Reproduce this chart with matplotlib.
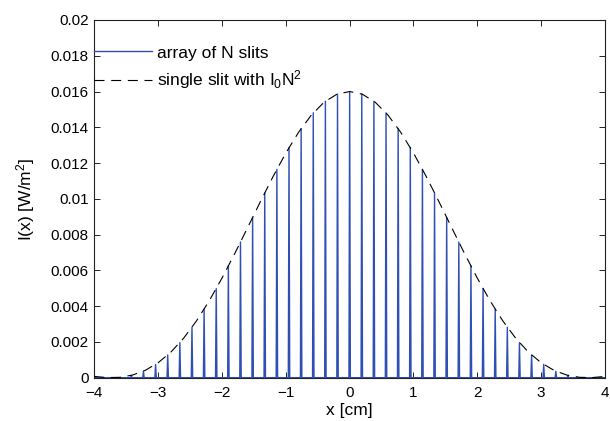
import matplotlib
matplotlib.use("Agg")
import matplotlib.pyplot as plt
import numpy as np

# ---- data ----
peak_pos = [-3.42, -3.23, -3.04, -2.85, -2.66, -2.47, -2.28, -2.09, -1.90, -1.71,
            -1.52, -1.33, -1.14, -0.95, -0.76, -0.57, -0.38, -0.19, 0.00,
            0.19, 0.38, 0.57, 0.76, 0.95, 1.14, 1.33, 1.52, 1.71, 1.90,
            2.09, 2.28, 2.47, 2.66, 2.85, 3.04, 3.23, 3.42]
peak_height = [0.00013, 0.00036, 0.00074, 0.00127, 0.00196, 0.00282, 0.00383, 0.00498,
               0.00625, 0.00759, 0.00896, 0.01033, 0.01165, 0.01287, 0.01393, 0.01481,
               0.01546, 0.01586, 0.01600,
               0.01586, 0.01546, 0.01481, 0.01393, 0.01287, 0.01165, 0.01033, 0.00896,
               0.00759, 0.00625, 0.00498, 0.00383, 0.00282, 0.00196, 0.00127, 0.00074,
               0.00036, 0.00013]

env_x = [-4.0, -3.8, -3.6, -3.4, -3.2, -3.0, -2.8, -2.6, -2.4, -2.2, -2.0,
         -1.8, -1.6, -1.4, -1.2, -1.0, -0.8, -0.6, -0.4, -0.2, 0.0,
         0.2, 0.4, 0.6, 0.8, 1.0, 1.2, 1.4, 1.6, 1.8, 2.0,
         2.2, 2.4, 2.6, 2.8, 3.0, 3.2, 3.4, 3.6, 3.8, 4.0]
env_y = [0.00007, 0.000005, 0.00002, 0.000147, 0.000413, 0.000836, 0.001431, 0.002211,
         0.003170, 0.004296, 0.005566, 0.006940, 0.008379, 0.009831, 0.011245, 0.012560,
         0.013722, 0.014684, 0.015404, 0.015849, 0.016000,
         0.015849, 0.015404, 0.014684, 0.013722, 0.012560, 0.011245, 0.009831, 0.008379,
         0.006940, 0.005566, 0.004296, 0.003170, 0.002211, 0.001431, 0.000836, 0.000413,
         0.000147, 0.00002, 0.000005, 0.00007]

x_ticks = [-4, -3, -2, -1, 0, 1, 2, 3, 4]
y_ticks = [0, 0.002, 0.004, 0.006, 0.008, 0.01, 0.012, 0.014, 0.016, 0.018, 0.02]
y_tick_labels = ["0", "0.002", "0.004", "0.006", "0.008", "0.01", "0.012",
                 "0.014", "0.016", "0.018", "0.02"]

# ---- style ----
plt.rcParams['font.family'] = ['Liberation Sans', 'DejaVu Sans']
plt.rcParams['mathtext.fontset'] = 'custom'
plt.rcParams['mathtext.rm'] = 'Liberation Sans'
plt.rcParams['mathtext.it'] = 'Liberation Sans:italic'
plt.rcParams['font.size'] = 11

BLUE = '#2f4fb4'
hw = 0.011  # half width of a spike in cm (style)

fig = plt.figure(figsize=(6.10, 4.21), dpi=100)
ax = fig.add_axes([0.1546, 0.1029, 0.8372, 0.8496])

# build the N-slit curve: baseline with narrow spikes
xs = [-4.0]
ys = [0.0]
for p, h in zip(peak_pos, peak_height):
    xs += [p - hw, p, p + hw]
    ys += [0.0, h, 0.0]
xs.append(4.0)
ys.append(0.0)

ax.plot(xs, ys, color=BLUE, lw=1.0, label='array of N slits', zorder=2)
ax.plot(env_x, env_y, color='black', lw=0.8, dashes=(9, 6),
        label=r'single slit with I$_\mathregular{0}$N$^\mathregular{2}$', zorder=3)

ax.set_xlim(-4, 4)
ax.set_ylim(0, 0.02)
ax.set_xticks(x_ticks)
ax.set_xticklabels([("\u2212%d" % -t) if t < 0 else "%d" % t for t in x_ticks])
ax.set_yticks(y_ticks)
ax.set_yticklabels(y_tick_labels)
ax.tick_params(direction='in', top=True, right=True, length=4.5, width=0.6,
               labelsize=11)
ax.tick_params(axis='x', pad=6)
ax.tick_params(axis='y', pad=4)
for s in ax.spines.values():
    s.set_linewidth(0.8)
    s.set_color('#222222')

ax.set_xlabel('x [cm]', fontsize=12.5, labelpad=2)
ax.set_ylabel(r'I(x) [W/m$^\mathregular{2}$]', fontsize=12.5, labelpad=10)

leg = ax.legend(loc='upper left', bbox_to_anchor=(0.0, 0.929), frameon=False,
                borderaxespad=0, borderpad=0, handlelength=3.3,
                handletextpad=0.3, labelspacing=0.45, fontsize=12.5)

fig.savefig('out.png', dpi=100)
